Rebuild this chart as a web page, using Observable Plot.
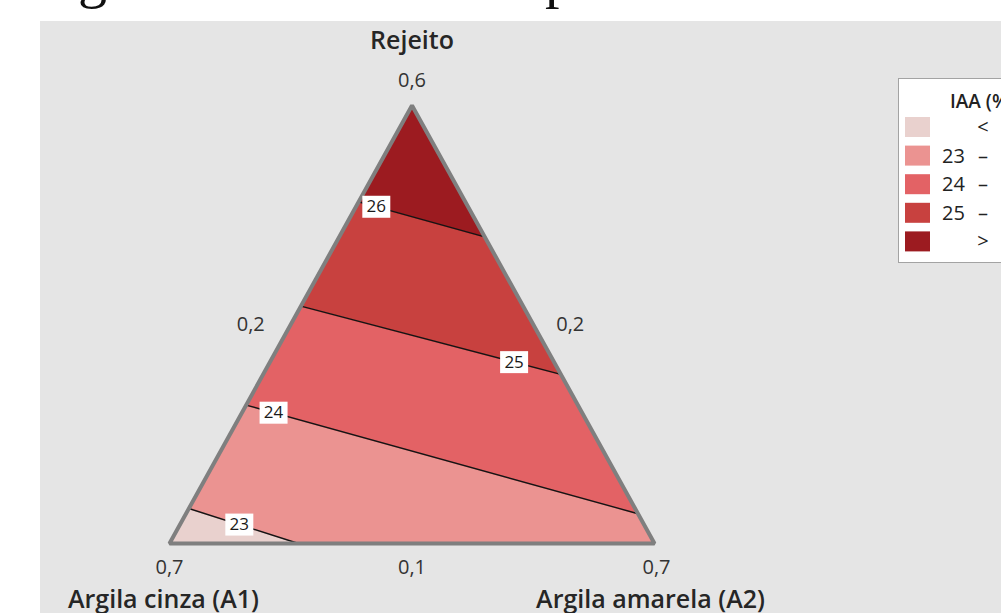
<!DOCTYPE html>
<html><head><meta charset="utf-8">
<script src="https://cdn.jsdelivr.net/npm/d3@7"></script>
<script src="https://cdn.jsdelivr.net/npm/@observablehq/plot@0.6"></script>
<style>body{margin:0;background:#fff;} svg{display:block}</style>
</head><body><div id="chart"></div>
<script>
// ---- data ----
const components = ["Argila cinza (A1)", "Argila amarela (A2)", "Rejeito"];
const upperBounds = [0.7, 0.7, 0.6];
const lowerBounds = [0.2, 0.2, 0.1];
const levels = [23, 24, 25, 26];
const startRejeito = [0.140, 0.258, 0.371, 0.490]; // contour meets side A2 = 0,2
const endA2 = [0.333, 0.666, 0.507, 0.350];       // other end of each contour
const endRejeito = [0.100, 0.134, 0.293, 0.450];
const bandLeft = ["", "23", "24", "25", ""];
const bandSymbol = ["<", "–", "–", "–", ">"];
const bandRight = ["23", "24", "25", "26", "26"];
const bandColors = ["#e9d1ce", "#eb9391", "#e36265", "#c8413f", "#9c1b20"];
const legendTitle = "IAA (%)";

// ---- ternary projection (pseudo-components) ----
const span = 1 - d3.sum(lowerBounds);
function proj(a1, a2, r) {
  const a2p = (a2 - lowerBounds[1]) / span, rp = (r - lowerBounds[2]) / span;
  return {x: a2p + rp / 2, y: rp};
}
const V1 = proj(upperBounds[0], lowerBounds[1], lowerBounds[2]);
const V2 = proj(lowerBounds[0], upperBounds[1], lowerBounds[2]);
const V3 = proj(lowerBounds[0], lowerBounds[1], upperBounds[2]);
const S = startRejeito.map(r => proj(1 - lowerBounds[1] - r, lowerBounds[1], r));
const E = endA2.map((a2, i) => proj(1 - a2 - endRejeito[i], a2, endRejeito[i]));

const bands = [
  [V1, S[0], E[0]],
  [S[0], S[1], E[1], V2, E[0]],
  [S[1], S[2], E[2], E[1]],
  [S[2], S[3], E[3], E[2]],
  [S[3], V3, E[3]]
];

const labelFrac = [0.46, 0.07, 0.82, 0.14];
const labels = levels.map((lv, i) => ({
  text: String(lv),
  x: S[i].x + (E[i].x - S[i].x) * labelFrac[i],
  y: S[i].y + (E[i].y - S[i].y) * labelFrac[i]
}));
const contours = levels.map((lv, i) => ({x1: S[i].x, y1: S[i].y, x2: E[i].x, y2: E[i].y}));

const fmt = v => String(v).replace(".", ",");
const mid = (a, b) => ({x: (a.x + b.x) / 2, y: (a.y + b.y) / 2});
const vertexTicks = [
  {...V1, t: fmt(upperBounds[0]), dx: 0, dy: 24},
  {...V2, t: fmt(upperBounds[1]), dx: 2, dy: 24},
  {...V3, t: fmt(upperBounds[2]), dx: 0, dy: -25}
];
const sideTicks = [
  {...mid(V2, V3), t: fmt(lowerBounds[0]), dx: 37, dy: 0},
  {...mid(V1, V3), t: fmt(lowerBounds[1]), dx: -40, dy: 0},
  {...mid(V1, V2), t: fmt(lowerBounds[2]), dx: 0, dy: 24}
];
const titles = [
  {...V1, t: components[0], dx: -6, dy: 56},
  {...V2, t: components[1], dx: -4, dy: 56},
  {...V3, t: components[2], dx: 0, dy: -65}
];

const boxSymbol = {draw(ctx) { ctx.rect(-14, -11, 28, 22); }};

const marks = [];
bands.forEach((b, i) => {
  marks.push(Plot.line(b, {x: "x", y: "y", curve: "linear-closed", fill: bandColors[i], stroke: bandColors[i], strokeWidth: 0.6}));
});
marks.push(
  Plot.link(contours, {x1: "x1", y1: "y1", x2: "x2", y2: "y2", stroke: "#141414", strokeWidth: 1.4}),
  Plot.line([V1, V2, V3], {x: "x", y: "y", curve: "linear-closed", stroke: "#7f7f7f", strokeWidth: 4, strokeLinejoin: "miter"}),
  Plot.dot(labels, {x: "x", y: "y", symbol: boxSymbol, fill: "white", stroke: "none"}),
  Plot.text(labels, {x: "x", y: "y", text: "text", fontSize: 17, fill: "#1a1a1a"}),
  ...[...vertexTicks, ...sideTicks].map(d => Plot.text([d], {x: "x", y: "y", text: "t", dx: d.dx, dy: d.dy, fontSize: 20, fill: "#333"})),
  ...titles.map(d => Plot.text([d], {x: "x", y: "y", text: "t", dx: d.dx, dy: d.dy, fontSize: 25, fontWeight: 600, fill: "#262626"}))
);

const plot = Plot.plot({
  width: 1001, height: 613, margin: 0,
  style: {fontFamily: "'Open Sans', sans-serif", background: "white", overflow: "hidden"},
  x: {domain: [0, 1], range: [169, 654], axis: null},
  y: {domain: [0, 1], range: [543, 105], axis: null},
  marks
});

const svg = d3.select(plot);
svg.insert("rect", ":first-child").attr("x", 40).attr("y", 21).attr("width", 1001).attr("height", 613).attr("fill", "#e5e5e5");
// cropped caption text above the panel
const cap = svg.insert("g", ":first-child").attr("font-family", "'Liberation Serif', serif").attr("font-size", 58).attr("text-anchor", "start").attr("fill", "#111");
cap.append("text").attr("x", 78).attr("y", -3).text("g");
cap.append("text").attr("x", 545).attr("y", -3).text("p");

// legend
const lg = svg.append("g").attr("font-family", "'Open Sans', sans-serif").attr("text-anchor", "start");
lg.append("rect").attr("x", 898.5).attr("y", 78.5).attr("width", 200).attr("height", 184).attr("fill", "white").attr("stroke", "#a3a3a3");
lg.append("text").attr("x", 950).attr("y", 108).attr("font-size", 19).attr("font-weight", 600).attr("fill", "#222").text(legendTitle);
bandColors.forEach((c, i) => {
  const cy = 127 + i * 28.6;
  lg.append("rect").attr("x", 905).attr("y", cy - 10).attr("width", 25).attr("height", 20).attr("fill", c);
  lg.append("text").attr("x", 942).attr("y", cy + 7).attr("font-size", 20).attr("fill", "#222").text(bandLeft[i]);
  lg.append("text").attr("x", 983).attr("y", cy + 7).attr("font-size", 20).attr("text-anchor", "middle").attr("fill", "#222").text(bandSymbol[i]);
  lg.append("text").attr("x", 1004).attr("y", cy + 7).attr("font-size", 20).attr("fill", "#222").text(bandRight[i]);
});

document.getElementById("chart").appendChild(plot);
</script>
</body></html>
